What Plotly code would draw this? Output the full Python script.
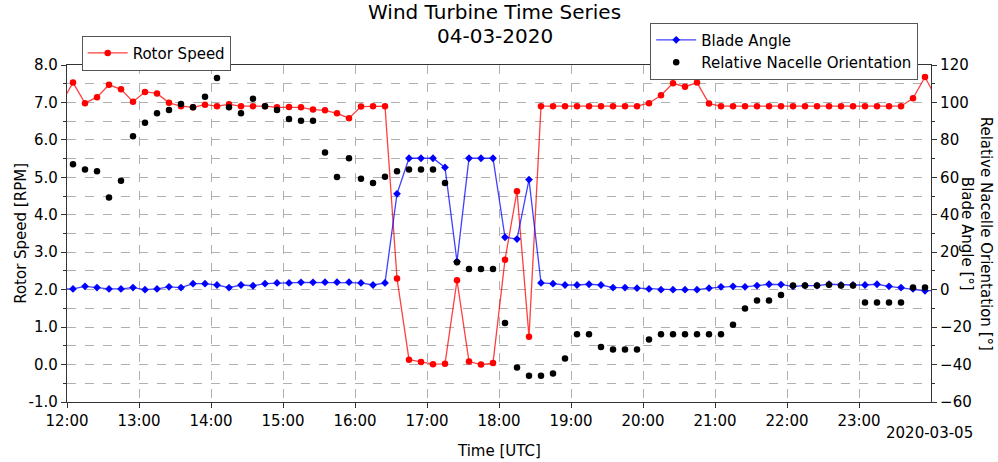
import pandas as pd
import plotly.graph_objects as go

# ---- data (10-minute samples, 11:55 on 2020-03-04 to 00:05 on 2020-03-05) ----
start_time = "2020-03-04 11:55"
n_samples = 74

rotor_speed = [
    6.96,
    7.53, 6.98, 7.14, 7.47, 7.35, 7.02, 7.28, 7.24, 6.99, 6.90,
    6.87, 6.94, 6.90, 6.95, 6.90, 6.90, 6.90, 6.87, 6.88, 6.87,
    6.81, 6.79, 6.71, 6.58, 6.89, 6.90, 6.90, 2.30, 0.13, 0.07,
    0.01, 0.02, 2.25, 0.08, 0.00, 0.04, 2.80, 4.63, 0.74, 6.90,
    6.90, 6.90, 6.90, 6.90, 6.90, 6.90, 6.90, 6.90, 6.98, 7.19,
    7.51, 7.42, 7.53, 6.97, 6.90, 6.90, 6.90, 6.90, 6.90, 6.90,
    6.90, 6.90, 6.90, 6.90, 6.90, 6.90, 6.90, 6.90, 6.90, 6.90,
    7.11, 7.68, 7.07,
]

blade_angle = [
    0.4,
    0.4, 1.8, 1.1, 0.4, 0.4, 1.1, 0.0, 0.4, 1.5, 1.1,
    3.2, 3.2, 2.5, 1.1, 2.5, 2.1, 3.2, 3.6, 3.6, 3.9,
    3.9, 4.0, 4.0, 4.0, 3.6, 2.5, 3.6, 51.2, 70.2, 70.2,
    70.2, 65.3, 15.0, 70.2, 70.2, 70.2, 28.0, 27.0, 58.8, 3.6,
    3.2, 2.5, 2.5, 2.9, 2.5, 1.1, 1.1, 0.8, 0.4, 0.0,
    0.0, 0.0, 0.0, 0.8, 1.5, 1.8, 1.5, 2.2, 2.9, 2.7,
    1.8, 2.2, 2.2, 2.9, 2.5, 2.5, 2.5, 2.9, 1.8, 1.1,
    0.4, -0.6, -0.5,
]

nacelle_orientation = [
    None,
    67.0, 64.2, 63.2, 49.2, 58.2, 82.0, 89.2, 94.2, 96.0, 99.2,
    97.4, 103.0, 113.0, 97.4, 94.2, 102.0, 98.0, 96.0, 91.2, 90.2,
    90.2, 73.2, 60.2, 70.2, 59.2, 57.0, 60.3, 63.2, 64.2, 64.2,
    64.2, 57.0, 14.7, 11.0, 11.0, 11.0, -17.8, -41.6, -46.0, -46.0,
    -44.8, -36.8, -23.8, -23.8, -30.6, -31.9, -31.9, -31.9, -26.6, -23.8,
    -23.8, -23.8, -23.8, -23.8, -23.8, -18.8, -10.0, -5.8, -5.8, -2.8,
    2.2, 2.2, 2.2, 2.6, 2.2, 2.2, -6.8, -6.8, -6.8, -6.8,
    1.1, 1.1, None,
]

x_range = ["2020-03-04 12:00", "2020-03-05 00:00"]
left_ticks = [-1.0, 0.0, 1.0, 2.0, 3.0, 4.0, 5.0, 6.0, 7.0, 8.0]
right_ticks = [-60, -40, -20, 0, 20, 40, 60, 80, 100, 120]
title_lines = ["Wind Turbine Time Series", "04-03-2020"]

times = pd.date_range(start_time, periods=n_samples, freq="10min")
hour_ticks = pd.date_range("2020-03-04 12:00", "2020-03-04 23:00", freq="1h")
hour_labels = [t.strftime("%H:%M") for t in hour_ticks]

FONT = "DejaVu Sans"
GRID = "#b0b0b0"
SPINE = "#333333"

fig = go.Figure()

fig.add_trace(go.Scatter(
    x=times, y=rotor_speed, name="Rotor Speed", mode="lines+markers",
    line=dict(color="rgba(255,0,0,0.75)", width=1.3),
    marker=dict(color="#ff0000", size=6.5, symbol="circle"),
    legend="legend", yaxis="y",
))
fig.add_trace(go.Scatter(
    x=times, y=blade_angle, name="Blade Angle", mode="lines+markers",
    line=dict(color="rgba(0,0,255,0.75)", width=1.3),
    marker=dict(color="#0000ff", size=6, symbol="diamond"),
    legend="legend2", yaxis="y2",
))
fig.add_trace(go.Scatter(
    x=times, y=nacelle_orientation, name="Relative Nacelle Orientation",
    mode="markers",
    marker=dict(color="#000000", size=6.5, symbol="circle"),
    legend="legend2", yaxis="y2",
))

fig.update_layout(
    width=998, height=462,
    margin=dict(l=67, r=67, t=65, b=60),
    paper_bgcolor="white", plot_bgcolor="white",
    font=dict(family=FONT, size=15, color="black"),
    showlegend=True,
    xaxis=dict(
        type="date", range=x_range,
        tickvals=list(hour_ticks), ticktext=hour_labels,
        showgrid=True, gridcolor=GRID, griddash="dash", gridwidth=1,
        ticks="outside", ticklen=5, tickcolor=SPINE,
        showline=True, linecolor=SPINE, linewidth=1.2, mirror=True,
        zeroline=False, tickfont=dict(size=15),
    ),
    yaxis=dict(
        range=[-1, 8], tickvals=left_ticks,
        ticktext=[f"{v:.1f}" for v in left_ticks],
        showgrid=True, gridcolor=GRID, griddash="dash", gridwidth=1,
        minor=dict(dtick=0.5, tick0=0, showgrid=True, gridcolor=GRID,
                   griddash="dash", ticks="outside", ticklen=3, tickcolor=SPINE),
        ticks="outside", ticklen=5, tickcolor=SPINE,
        showline=True, linecolor=SPINE, linewidth=1.2,
        zeroline=False, tickfont=dict(size=15),
    ),
    yaxis2=dict(
        range=[-60, 120], tickvals=right_ticks, overlaying="y", side="right",
        showgrid=False, zeroline=False,
        minor=dict(dtick=10, tick0=0, ticks="outside", ticklen=3, tickcolor=SPINE),
        ticks="outside", ticklen=5, tickcolor=SPINE,
        showline=True, linecolor=SPINE, linewidth=1.2,
        tickfont=dict(size=15),
    ),
    legend=dict(
        x=0.017, y=1.087, xanchor="left", yanchor="top",
        bgcolor="white", bordercolor="#555555", borderwidth=1,
        font=dict(size=15), itemwidth=40,
    ),
    legend2=dict(
        x=0.675, y=1.126, xanchor="left", yanchor="top",
        bgcolor="white", bordercolor="#555555", borderwidth=1,
        font=dict(size=15), itemwidth=40, tracegroupgap=0,
    ),
    annotations=[
        dict(text=title_lines[0], xref="paper", yref="paper",
             x=0.495, y=1.157, xanchor="center", yanchor="middle", showarrow=False,
             font=dict(size=20)),
        dict(text=title_lines[1], xref="paper", yref="paper",
             x=0.495, y=1.087, xanchor="center", yanchor="middle", showarrow=False,
             font=dict(size=20)),
        dict(text="Rotor Speed [RPM]", xref="paper", yref="paper",
             x=-0.054, y=0.5, xanchor="center", yanchor="middle", textangle=-90,
             showarrow=False, font=dict(size=15)),
        dict(text="Relative Nacelle Orientation [°]<br>Blade Angle [°]", xref="paper",
             yref="paper", x=1.053, y=0.5, xanchor="center", yanchor="middle",
             textangle=90, showarrow=False, font=dict(size=15)),
        dict(text="Time [UTC]", xref="paper", yref="paper", x=0.5, y=-0.145,
             xanchor="center", yanchor="middle", showarrow=False, font=dict(size=15)),
        dict(text="2020-03-05", xref="paper", yref="paper", x=0.998, y=-0.092,
             xanchor="center", yanchor="middle", showarrow=False, font=dict(size=15)),
    ],
)

fig.write_html("out.html")
